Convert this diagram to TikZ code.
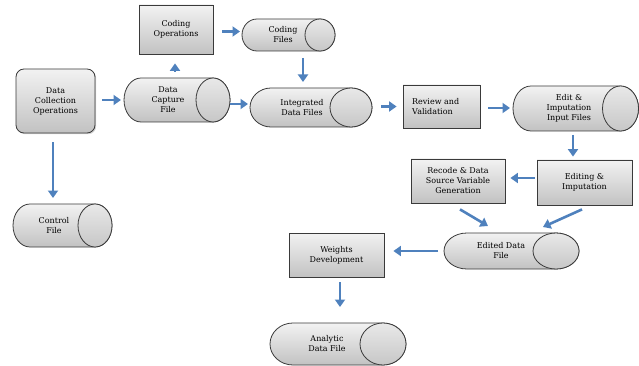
\documentclass[tikz,border=0pt]{standalone}
\usepackage{fontspec}
\setmainfont{DejaVu Serif}
\usetikzlibrary{arrows.meta,shadows}
\definecolor{arrowblue}{HTML}{4F81BD}
\definecolor{boxtop}{HTML}{F2F2F2}
\definecolor{boxbot}{HTML}{C2C2C2}
\definecolor{boxline}{HTML}{3A3A3A}
\tikzset{
  txt/.style={font=\fontsize{8}{10}\selectfont, align=center, inner sep=0pt},
  boxstyle/.style={draw=boxline, line width=0.8pt, top color=boxtop, bottom color=boxbot,
     drop shadow={shadow xshift=1.2pt, shadow yshift=-1.2pt, opacity=0.35}},
  cylbody/.style={draw=boxline, line width=0.8pt, top color=boxtop, bottom color=boxbot},
  cylface/.style={draw=boxline, line width=0.8pt, top color=boxtop!80!boxbot, bottom color=boxbot!90!boxtop},
  ghost/.style={inner sep=0pt, outer sep=0pt},
  arr/.style={draw=arrowblue, line width=2.6pt, -{Triangle[length=7.5pt,width=10pt]}},
}
% #1 name, #2 x1, #3 y1, #4 x2, #5 y2, #6 ellipse x radius, #7 text x, #8 text y, #9 text
\newcommand\mycyl[9]{%
  \pgfmathsetmacro\myry{(#5-#3)/2}%
  \pgfmathsetmacro\mycy{(#3+#5)/2}%
  \pgfmathsetmacro\mycx{(#2+#4)/2}%
  \pgfmathsetmacro\mywd{#4-#2}%
  \pgfmathsetmacro\myht{#5-#3}%
  \path[cylbody] (#4-#6,#3) -- (#2+#6,#3)
     arc[start angle=90,end angle=270,x radius=#6pt,y radius=\myry pt]
     -- (#4-#6,#5)
     arc[start angle=270,end angle=450,x radius=#6pt,y radius=\myry pt] -- cycle;
  \path[cylface] (#4-#6,\mycy) ellipse[x radius=#6pt,y radius=\myry pt];
  \node[ghost, minimum width=\mywd pt, minimum height=\myht pt] (#1) at (\mycx,\mycy) {};
  \node[txt] (#1-t) at (#7,#8) {#9};
}
\begin{document}
\begin{tikzpicture}[x=1pt,y=-1pt]
\useasboundingbox (0,0) rectangle (639,366);
% rectangles
\node[boxstyle, rounded corners=8pt, minimum width=79pt, minimum height=64pt, txt] (dco) at (55.5,101) {Data\\Collection\\Operations};
\node[boxstyle, minimum width=74pt, minimum height=49pt, txt] (cop) at (176,29.5) {Coding\\Operations};
\node[boxstyle, minimum width=77pt, minimum height=43pt] (rev) at (441.5,106.5) {};
\node[txt, align=left, anchor=west] (rev-t) at (412,107) {Review and\\Validation};
\node[boxstyle, minimum width=95pt, minimum height=45pt, txt] (edi) at (584.5,182.5) {Editing \&\\Imputation};
\node[boxstyle, minimum width=94pt, minimum height=44pt, txt] (rec) at (458,181) {Recode \& Data\\Source Variable\\Generation};
\node[boxstyle, minimum width=95pt, minimum height=44pt, txt] (wdv) at (336.5,255) {Weights\\Development};
% cylinders
\mycyl{dcf}{124}{78}{230}{122}{17}{168}{100}{Data\\Capture\\File}
\mycyl{cof}{242}{19}{335}{51}{15}{283}{35}{Coding\\Files}
\mycyl{idf}{250}{88}{372}{127}{21}{302}{107.5}{Integrated\\Data Files}
\mycyl{eif}{513}{86}{638.5}{131}{18}{569}{108}{Edit \&\\Imputation\\Input Files}
\mycyl{edf}{444}{233}{579}{269}{23}{501}{251}{Edited Data\\File}
\mycyl{adf}{270}{323}{406}{365}{23}{327}{344}{Analytic\\Data File}
\mycyl{ctl}{13}{204}{112}{247}{17}{54}{226}{Control\\File}
% connectors
\draw[arr, shorten <=9pt, shorten >=6pt] ([xshift=-2.5pt]dco.south) -- ([xshift=-2.5pt]dco.south |- ctl.north);
\draw[arr, shorten <=7pt, shorten >=3pt] (dco.east |- dcf.west) -- (dcf.west);
\draw[arr, shorten <=6pt, shorten >=9pt] ([xshift=-1pt]cop.south |- dcf.north) -- ([xshift=-1pt]cop.south);
\draw[arr, shorten <=9pt, shorten >=2pt] ([yshift=-2pt]cop.east) -- ([yshift=-2pt]cop.east -| cof.west);
\draw[arr, shorten <=7pt, shorten >=6pt] ([xshift=14.5pt]cof.south) -- ([xshift=14.5pt]cof.south |- idf.north);
\draw[arr, shorten >=2pt] ([yshift=-4pt]dcf.east) -- ([yshift=-4pt]dcf.east -| idf.west);
\draw[arr, shorten <=9pt, shorten >=6pt] (idf.east |- rev.west) -- (rev.west);
\draw[arr, shorten <=8pt, shorten >=3pt] ([yshift=-1.5pt]rev.east) -- ([yshift=-1.5pt]rev.east -| eif.west);
\draw[arr, shorten <=4pt, shorten >=3pt] ([xshift=-11.5pt]edi.north |- eif.south) -- ([xshift=-11.5pt]edi.north);
\draw[arr, shorten <=2pt, shorten >=5pt] ([yshift=4.5pt]edi.west) -- ([yshift=4.5pt]edi.west -| rec.east);
\draw[arr] ([shift={(2,6)}]rec.south) -- ([shift={(-23.5,-7)}]edf.north);
\draw[arr] ([shift={(-2.5,4)}]edi.south) -- ([shift={(31.5,-6)}]edf.north);
\draw[arr, shorten <=6pt, shorten >=9pt] (edf.west) -- (edf.west -| wdv.east);
\draw[arr, shorten <=5pt, shorten >=16pt] ([xshift=3.5pt]wdv.south) -- ([xshift=3.5pt]wdv.south |- adf.north);
\end{tikzpicture}
\end{document}
